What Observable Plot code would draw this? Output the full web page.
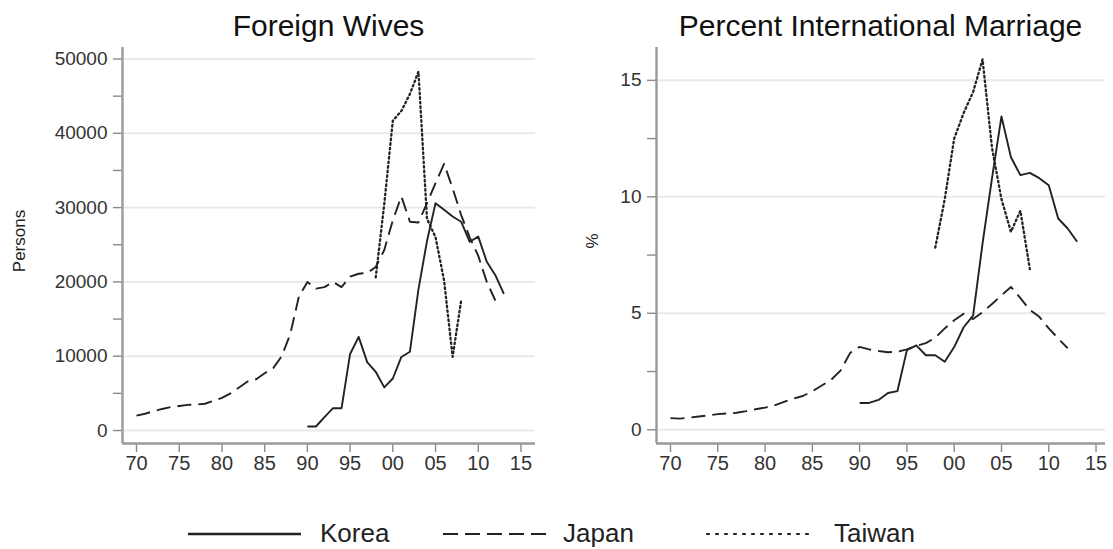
<!DOCTYPE html>
<html>
<head>
<meta charset="utf-8">
<script src="https://cdn.jsdelivr.net/npm/d3@7"></script>
<script src="https://cdn.jsdelivr.net/npm/@observablehq/plot@0.6"></script>
<style>
  body { margin: 0; background: #fff; }
  #root { position: relative; width: 1113px; height: 549px; overflow: hidden; font-family: "Liberation Sans", Arial, sans-serif; }
  #root .panel { position: absolute; top: 42px; }
  #overlay { position: absolute; left: 0; top: 0; pointer-events: none; }
</style>
</head>
<body>
<div id="root"></div>
<script>
// ---------- data ----------
const koreaYears  = [1990,1991,1992,1993,1994,1995,1996,1997,1998,1999,2000,2001,2002,2003,2004,2005,2006,2007,2008,2009,2010,2011,2012,2013];
const koreaWives  = [540,540,1800,3000,3000,10300,12600,9200,7900,5800,7000,9900,10600,19000,25500,30600,29700,28800,28100,25400,26100,22700,20900,18400];
const koreaPct    = [1.15,1.15,1.28,1.58,1.66,3.42,3.62,3.2,3.2,2.92,3.55,4.4,4.9,8.0,10.8,13.45,11.7,10.93,11.03,10.8,10.5,9.07,8.64,8.07];

const japanYears  = [1970,1971,1972,1973,1974,1975,1976,1977,1978,1979,1980,1981,1982,1983,1984,1985,1986,1987,1988,1989,1990,1991,1992,1993,1994,1995,1996,1997,1998,1999,2000,2001,2002,2003,2004,2005,2006,2007,2008,2009,2010,2011,2012];
const japanWives  = [2000,2250,2600,2900,3150,3300,3450,3500,3600,4000,4400,5000,5800,6600,6900,7700,8400,10000,13000,18000,20000,19100,19300,20000,19300,20700,21100,21200,22000,24300,28300,31500,28100,28000,30600,33300,35900,32600,29000,26000,23500,20000,17500];
const japanPct    = [0.5,0.48,0.52,0.57,0.62,0.67,0.7,0.73,0.8,0.88,0.95,1.05,1.2,1.34,1.45,1.65,1.9,2.15,2.55,3.3,3.56,3.45,3.38,3.33,3.35,3.45,3.6,3.72,3.95,4.35,4.7,4.98,4.75,5.05,5.4,5.77,6.13,5.65,5.15,4.85,4.35,3.92,3.5];

const taiwanYears = [1998,1999,2000,2001,2002,2003,2004,2005,2006,2007,2008];
const taiwanWives = [20600,30500,41700,43000,45300,48300,28500,26000,20200,9900,17500];
const taiwanPct   = [7.82,9.9,12.5,13.6,14.5,15.9,12.1,9.9,8.5,9.4,6.9];

const seriesNames = ["Korea", "Japan", "Taiwan"];
const xTicks      = [1970,1975,1980,1985,1990,1995,2000,2005,2010,2015];
const xTickLabels = ["70","75","80","85","90","95","00","05","10","15"];
const wivesTicks  = [0,10000,20000,30000,40000,50000];
const wivesMinor  = [5000,15000,25000,35000,45000];
const pctTicks    = [0,5,10,15];
const pctMinor    = [2.5,7.5,12.5];
const panelTitles = ["Foreign Wives", "Percent International Marriage"];
const yTitles     = ["Persons", "%"];

// ---------- styles ----------
const FONT = '"Liberation Sans", Arial, sans-serif';
const dashes = { Korea: null, Japan: "14,7", Taiwan: "1.6,3" };
const widths = { Korea: 1.9, Japan: 1.9, Taiwan: 2.3 };
const legendDashes = { Korea: null, Japan: "15,7", Taiwan: "2,7" };

function rows(years, values, name) {
  return years.map((y, i) => ({ series: name, year: y, value: values[i] }));
}
const wivesRows = [
  ...rows(koreaYears, koreaWives, "Korea"),
  ...rows(japanYears, japanWives, "Japan"),
  ...rows(taiwanYears, taiwanWives, "Taiwan")
];
const pctRows = [
  ...rows(koreaYears, koreaPct, "Korea"),
  ...rows(japanYears, japanPct, "Japan"),
  ...rows(taiwanYears, taiwanPct, "Taiwan")
];

function panel({ data, width, marginLeft, marginRight, xDomain, yDomain, yTicks, yMinor }) {
  return Plot.plot({
    width, height: 440,
    marginLeft, marginRight, marginTop: 5, marginBottom: 39,
    x: { domain: xDomain, axis: null },
    y: { domain: yDomain, axis: null },
    style: { fontFamily: FONT, background: "transparent", overflow: "visible" },
    marks: [
      Plot.gridY(yTicks, { stroke: "#e9e9e9", strokeOpacity: 1, strokeWidth: 2 }),
      Plot.axisY(yTicks, { anchor: "left", tickSize: 9, tickPadding: 6, fontSize: 19, stroke: "#8a8a8a", strokeWidth: 1.4, fill: "#333", label: null, tickFormat: d => String(d) }),
      Plot.axisY(yMinor, { anchor: "left", tickSize: 9, stroke: "#8a8a8a", strokeWidth: 1.4, label: null, tickFormat: () => "" }),
      Plot.axisX(xTicks, { anchor: "bottom", tickSize: 9, tickPadding: 3, fontSize: 20, stroke: "#8a8a8a", strokeWidth: 1.4, fill: "#333", label: null, tickFormat: d => xTickLabels[xTicks.indexOf(d)] }),
      Plot.ruleX([xDomain[0]], { stroke: "#9a9a9a", strokeWidth: 2.4 }),
      Plot.ruleY([yDomain[0]], { stroke: "#9a9a9a", strokeWidth: 2.4 }),
      ...seriesNames.map(name => Plot.line(data.filter(d => d.series === name), {
        x: "year", y: "value",
        stroke: "#222", strokeWidth: widths[name],
        strokeDasharray: dashes[name],
        strokeLinecap: name === "Taiwan" ? "round" : "butt"
      }))
    ]
  });
}

const root = document.getElementById("root");

const left = panel({
  data: wivesRows, width: 556, marginLeft: 122, marginRight: 21,
  xDomain: [1968.36, 2016.7], yDomain: [-1750, 51550],
  yTicks: wivesTicks, yMinor: wivesMinor
});
left.classList.add("panel");
left.style.left = "0px";
root.appendChild(left);

const right = panel({
  data: pctRows, width: 557, marginLeft: 100, marginRight: 8,
  xDomain: [1968.52, 2016.0], yDomain: [-0.59, 16.41],
  yTicks: pctTicks, yMinor: pctMinor
});
right.classList.add("panel");
right.style.left = "556px";
root.appendChild(right);

// ---------- overlay: titles, y titles, legend ----------
const svg = d3.select(root).append("svg")
  .attr("id", "overlay").attr("width", 1113).attr("height", 549)
  .style("font-family", FONT);

const titleX = [328.5, 880.5];
panelTitles.forEach((t, i) => {
  svg.append("text").attr("x", titleX[i]).attr("y", 36)
    .attr("text-anchor", "middle").attr("font-size", 30).attr("fill", "#111").text(t);
});

const yTitleX = [25, 598];
yTitles.forEach((t, i) => {
  svg.append("text").attr("transform", `translate(${yTitleX[i]},241) rotate(-90)`)
    .attr("text-anchor", "middle").attr("font-size", 17).attr("fill", "#222").text(t);
});

const legendLineX = [188, 443, 707];
const legendLineW = [113, 104, 104];
const legendTextX = [320, 563, 834];
seriesNames.forEach((name, i) => {
  svg.append("line")
    .attr("x1", legendLineX[i]).attr("x2", legendLineX[i] + legendLineW[i])
    .attr("y1", 534).attr("y2", 534)
    .attr("stroke", "#222").attr("stroke-width", name === "Korea" ? 2.6 : 2.2)
    .attr("stroke-linecap", name === "Taiwan" ? "round" : "butt")
    .attr("stroke-dasharray", legendDashes[name]);
  svg.append("text").attr("x", legendTextX[i]).attr("y", 542)
    .attr("font-size", 26).attr("fill", "#222").text(name);
});
</script>
</body>
</html>
